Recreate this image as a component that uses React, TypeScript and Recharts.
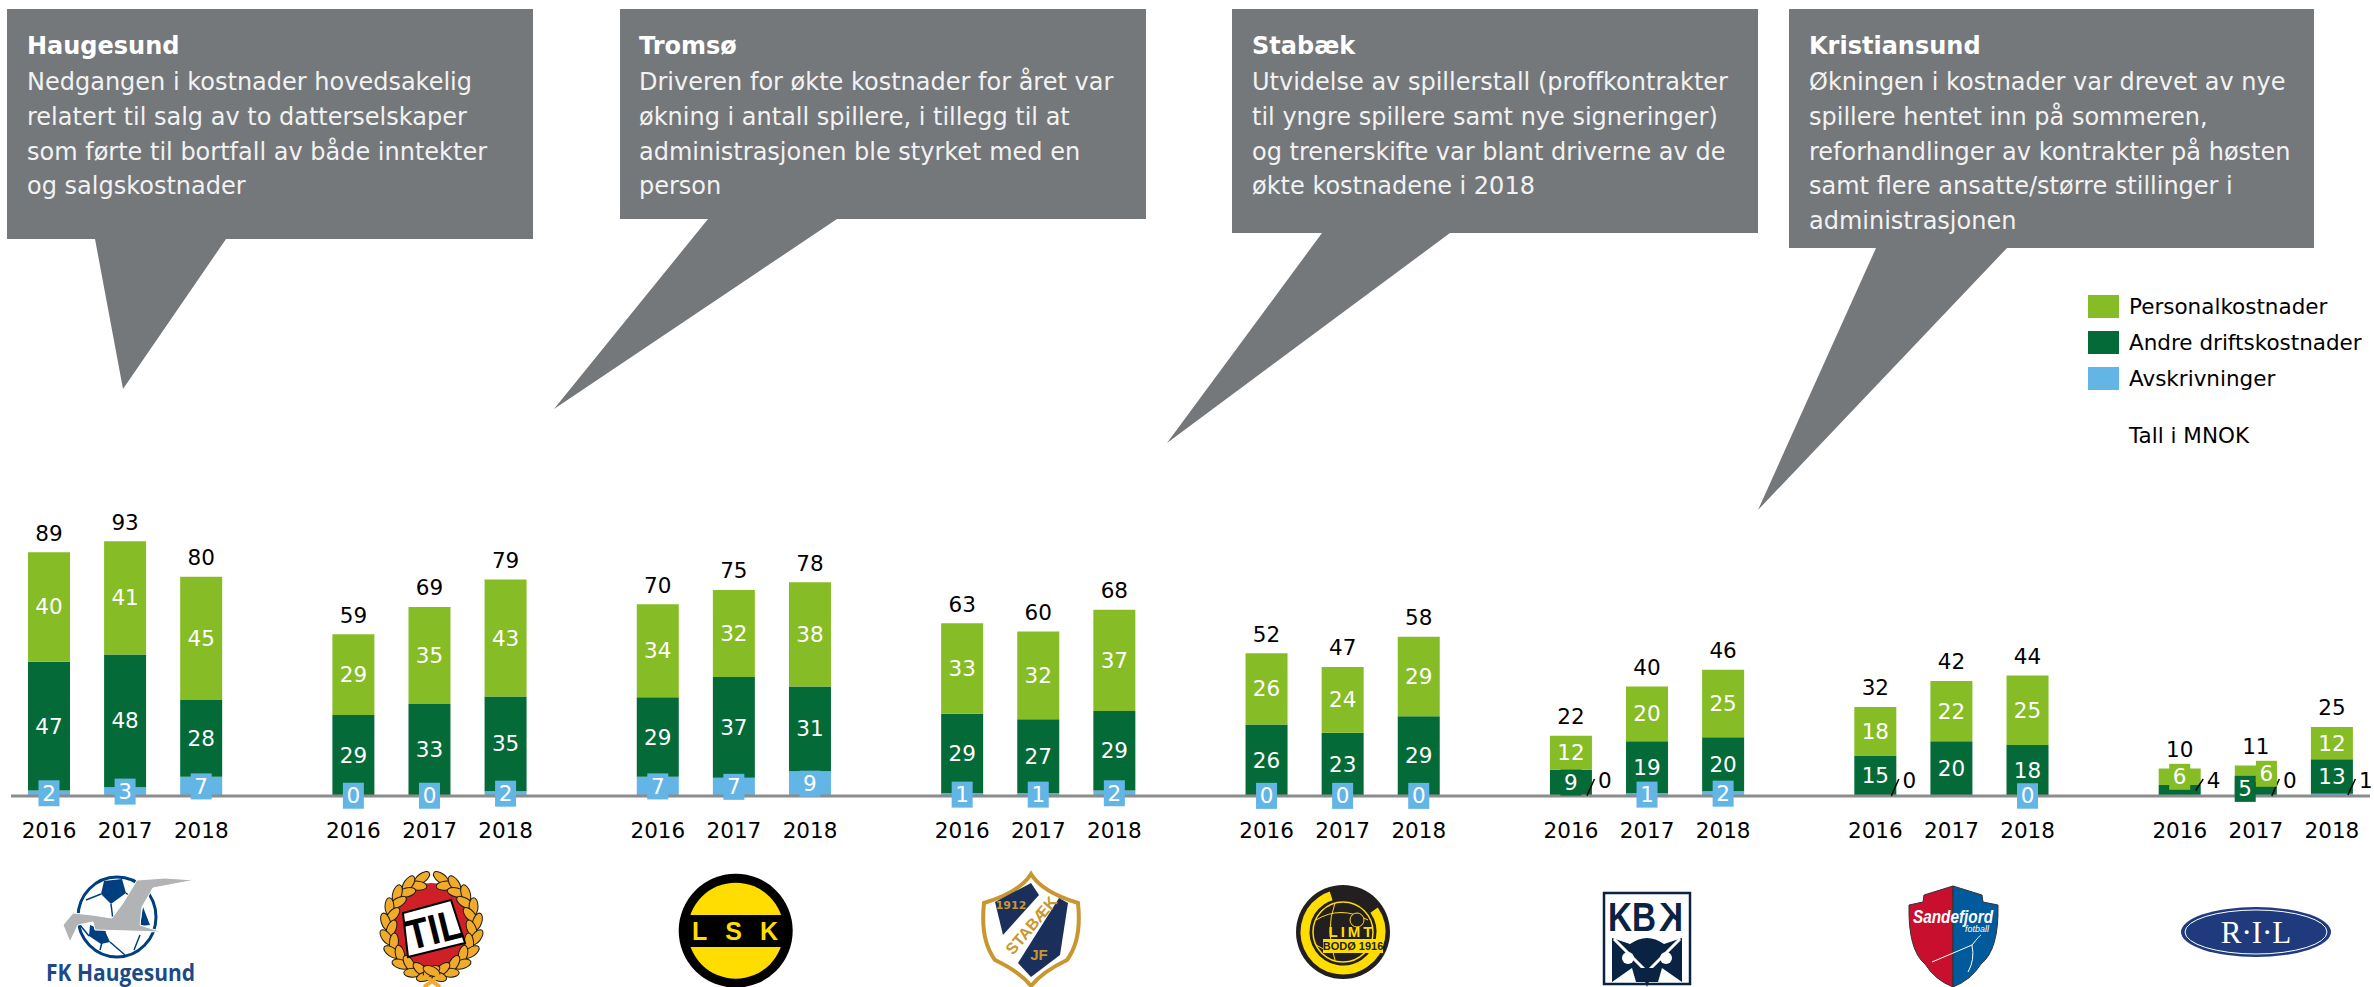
import { Bar, BarChart, LabelList, Legend, XAxis, YAxis } from "recharts";

const FONT = "'DejaVu Sans', Verdana, sans-serif";
const LIGHT_GREEN = "#86BC25";
const DARK_GREEN = "#046A38";
const BLUE = "#62B5E5";
const CALLOUT_GREY = "#75787B";

const years = ["2016", "2017", "2018"];

// one value per club per year, Haugesund first, Ranheim last
const personal = [40, 41.4, 45, 29.4, 35.4, 42.7, 34, 31.8, 38, 33, 32, 37, 26, 24, 29, 12.4, 20, 24.7, 17.7, 22, 25.4, 6, 6, 11.8];
const andre = [47, 48.4, 28, 29.4, 33.4, 34.6, 29, 36.7, 31, 29, 27, 29, 26, 23, 29, 9.4, 19, 19.7, 14.7, 20, 18.4, 4, 5, 12.6];
const avskrivninger = [2, 3.2, 7, 0.2, 0.2, 1.7, 7, 6.7, 9, 1, 1, 2, 0.1, 0.1, 0.1, 0.2, 1, 1.7, 0.1, null, 0.2, null, 0.1, 0.8];
const totals = [89, 93, 80, 59, 69, 79, 70, 75, 78, 63, 60, 68, 52, 47, 58, 22, 40, 46, 32, 42, 44, 10, 11, 25];

// a blank slot between the clubs keeps the groups apart
const rows: Record<string, number | string | null>[] = [];
personal.forEach((_, i) => {
  rows.push({
    id: rows.length,
    year: years[i % 3],
    personal: personal[i],
    andre: andre[i],
    avskrivninger: avskrivninger[i],
    total: totals[i],
  });
  if (i % 3 === 2 && i < personal.length - 1) {
    rows.push({ id: rows.length, year: "", personal: null, andre: null, avskrivninger: null, total: null });
  }
});

const rowOf = (club: number, year: number) => club * 4 + year;

// labels too small for their segment, moved next to the bar with a leader line
const sideLabels: Record<string, number[]> = {
  avskrivninger: [rowOf(5, 0), rowOf(6, 0), rowOf(7, 1), rowOf(7, 2)],
  andre: [rowOf(7, 0)],
};
const nudgedLabels: Record<string, Record<number, number>> = {
  personal: { [rowOf(7, 1)]: 10.6 },
  andre: { [rowOf(7, 1)]: -10.6 },
};

const callouts = [
  {
    title: "Haugesund",
    lines: ["Nedgangen i kostnader hovedsakelig", "relatert til salg av to datterselskaper", "som førte til bortfall av både inntekter", "og salgskostnader"],
    points: "7,9 533,9 533,239 226,239 123,389 95,239 7,239",
    textX: 27,
  },
  {
    title: "Tromsø",
    lines: ["Driveren for økte kostnader for året var", "økning i antall spillere, i tillegg til at", "administrasjonen ble styrket med en", "person"],
    points: "620,9 1146,9 1146,219 837,219 554,409 708,219 620,219",
    textX: 639,
  },
  {
    title: "Stabæk",
    lines: ["Utvidelse av spillerstall (proffkontrakter", "til yngre spillere samt nye signeringer)", "og trenerskifte var blant driverne av de", "økte kostnadene i 2018"],
    points: "1232,9 1758,9 1758,233 1450,233 1167,443 1322,233 1232,233",
    textX: 1252,
  },
  {
    title: "Kristiansund",
    lines: ["Økningen i kostnader var drevet av nye", "spillere hentet inn på sommeren,", "reforhandlinger av kontrakter på høsten", "samt flere ansatte/større stillinger i", "administrasjonen"],
    points: "1789,9 2314,9 2314,248 2007,248 1758,510 1876,248 1789,248",
    textX: 1809,
  },
];

// labels get "row:value" so the content renderer knows which bar it is on
const labelKey = (series: string) => (row: any) => (row[series] === null ? null : `${row.id}:${row[series]}`);

function SegmentLabel(props: any) {
  const { series, fill, value, axisY } = props;
  const box = props.viewBox ?? props;
  if (value === null || value === undefined) return null;
  const [rowId, raw] = String(value).split(":").map(Number);
  const text = String(Math.round(raw));
  const cy = box.y + box.height / 2;
  const right = box.x + box.width;

  if ((sideLabels[series] ?? []).includes(rowId)) {
    return (
      <g>
        <line x1={right - 5} y1={cy} x2={right + 2.5} y2={axisY - 17} stroke="#000" strokeWidth={1.5} />
        <text x={right + 13} y={axisY - 16} textAnchor="middle" dominantBaseline="central" fontSize={21.5} fontFamily={FONT} fill="#000">
          {text}
        </text>
      </g>
    );
  }

  const cx = box.x + box.width / 2 + (nudgedLabels[series]?.[rowId] ?? 0);
  const boxWidth = text.length > 1 ? 34 : 21;
  return (
    <g>
      <rect x={cx - boxWidth / 2} y={cy - 13} width={boxWidth} height={26} fill={fill} />
      <text x={cx} y={cy} textAnchor="middle" dominantBaseline="central" fontSize={21.5} fontFamily={FONT} fill="#fff">
        {text}
      </text>
    </g>
  );
}

function TotalLabel(props: any) {
  const box = props.viewBox ?? props;
  if (props.value === null || props.value === undefined) return null;
  return (
    <text x={box.x + box.width / 2} y={box.y - 19} textAnchor="middle" dominantBaseline="central" fontSize={21.5} fontFamily={FONT} fill="#000">
      {props.value}
    </text>
  );
}

function LegendList({ payload }: any) {
  const items = (payload ?? []).filter((item: any) => item.type !== "none").reverse();
  return (
    <div style={{ fontFamily: FONT, fontSize: 21.5, color: "#000" }}>
      {items.map((item: any) => (
        <div key={item.value} style={{ display: "flex", alignItems: "center", height: 23, marginBottom: 13, whiteSpace: "nowrap" }}>
          <span style={{ width: 31, height: 23, background: item.color, marginRight: 10, flex: "none" }} />
          {item.value}
        </div>
      ))}
      <div style={{ marginLeft: 41, marginTop: 34, lineHeight: "23px" }}>Tall i MNOK</div>
    </div>
  );
}

function Callouts() {
  return (
    <>
      {callouts.map((c) => (
        <g key={c.title}>
          <polygon points={c.points} fill={CALLOUT_GREY} />
          <text x={c.textX} y={54} fontSize={24} fontWeight="bold" fontFamily={FONT} fill="#fff">
            {c.title}
          </text>
          {c.lines.map((line, i) => (
            <text key={line} x={c.textX} y={90 + i * 34.8} fontSize={24} fontFamily={FONT} fill="#f2f2f2">
              {line}
            </text>
          ))}
        </g>
      ))}
    </>
  );
}

function HaugesundLogo() {
  const navy = "#003F7F";
  return (
    <g>
      <ellipse cx={117} cy={917} rx={39} ry={40} fill="#fff" stroke={navy} strokeWidth={3} />
      <polygon points="104,881 122,879 126,893 111,904 101,894" fill={navy} />
      <polygon points="90,925 105,931 110,942 101,944 89,936" fill={navy} />
      <polygon points="143,907 150,925 140,926" fill={navy} />
      <path d="M111 904 L113 920 M126 893 L140 905 M105 931 L100 950 M110 942 L125 955 M101 894 L86 900 M89 936 L80 925 M140 935 L134 950" stroke={navy} strokeWidth={1.5} fill="none" />
      <polygon points="195,880 165,878 137,880 123,903 112,918 92,915 73,913 63,925 70,942 78,925 93,922 95,930 130,931 162,932 140,925 142,907 153,888" fill="#B1B3B5" stroke="#fff" strokeWidth={1} />
      <text x={46} y={981} fontSize={23} fontWeight="bold" fontFamily="'Open Sans', sans-serif" fill="#1B4A86" textLength={149} lengthAdjust="spacingAndGlyphs">
        FK Haugesund
      </text>
    </g>
  );
}

function TromsoLogo() {
  const cx = 431.5;
  const cy = 927;
  const steps = [12, 30, 48, 66, 84, 102, 120, 138, 156, 172];
  const leaf = (a: number, side: number, rx: number, ry: number, tilt: number) => {
    const r = (a * Math.PI) / 180;
    const x = cx + side * rx * Math.sin(r);
    const y = cy - ry * Math.cos(r);
    return (
      <ellipse
        key={`${a}-${side}-${rx}`}
        cx={x}
        cy={y}
        rx={4.5}
        ry={9}
        fill="#F0AB2A"
        stroke="#1a1a1a"
        strokeWidth={1}
        transform={`rotate(${side * (a + 90 + tilt)} ${x} ${y})`}
      />
    );
  };
  return (
    <g>
      <ellipse cx={cx} cy={cy} rx={40} ry={44} fill="#CF2027" />
      {steps.map((a) => [leaf(a, 1, 46, 50, 25), leaf(a, -1, 46, 50, 25), leaf(a + 8, 1, 40, 44, -25), leaf(a + 8, -1, 40, 44, -25)])}
      <polygon points="403,913 451,900 465,943 408,957" fill="#fff" stroke="#000" strokeWidth={2} />
      <text x={434} y={944} textAnchor="middle" fontSize={42} fontWeight="bold" fontFamily="'Liberation Sans', sans-serif" fill="#000" textLength={56} lengthAdjust="spacingAndGlyphs" transform="rotate(-14 434 930)">
        TIL
      </text>
      <path d="M424 987 L440 975 M440 987 L424 975" stroke="#F0AB2A" strokeWidth={4} />
    </g>
  );
}

function LskLogo() {
  return (
    <g>
      <circle cx={735.7} cy={930.7} r={57} fill="#000" />
      <circle cx={735.7} cy={930.7} r={48} fill="#FFDD00" />
      <rect x={683} y={915} width={105} height={32} fill="#000" />
      <text x={744} y={940} textAnchor="middle" fontSize={25} fontWeight="bold" fontFamily="'Liberation Sans', sans-serif" fill="#FFDD00" letterSpacing={18}>
        LSK
      </text>
    </g>
  );
}

function StabaekLogo() {
  const gold = "#C9962F";
  return (
    <g>
      <path d="M1031 874 Q1042 892 1078 903 Q1082 940 1067 960 Q1042 972 1031 986 Q1020 972 995 960 Q980 940 984 903 Q1020 892 1031 874 Z" fill="#fff" stroke={gold} strokeWidth={4} />
      <polygon points="1031,883 1039,895 1003,935 995,902" fill="#1B2F5B" />
      <polygon points="1059,898 1068,903 1060,955 1031,977 1018,963" fill="#1B2F5B" />
      <text x={1011} y={909} textAnchor="middle" fontSize={11} fontWeight="bold" fontFamily={FONT} fill={gold}>
        1912
      </text>
      <text x={1031} y={931} textAnchor="middle" fontSize={16} fontWeight="bold" fontFamily="'Liberation Sans', sans-serif" fill={gold} transform="rotate(-50 1031 925)">
        STABÆK
      </text>
      <text x={1039} y={960} textAnchor="middle" fontSize={15} fontWeight="bold" fontFamily="'Liberation Sans', sans-serif" fill={gold}>
        JF
      </text>
    </g>
  );
}

function BodoLogo() {
  const yellow = "#FFDD00";
  return (
    <g>
      <circle cx={1343} cy={932} r={47} fill="#231F20" />
      <circle cx={1343} cy={932} r={38} fill="none" stroke={yellow} strokeWidth={9} strokeDasharray="190 49" transform="rotate(-35 1343 932)" />
      <circle cx={1343} cy={932} r={30} fill="none" stroke={yellow} strokeWidth={1.5} />
      <path d="M1316 920 Q1340 905 1368 920 M1316 945 Q1340 960 1368 945 M1335 903 Q1325 930 1335 960" stroke={yellow} strokeWidth={1} fill="none" />
      <circle cx={1357} cy={920} r={7} fill="#231F20" stroke={yellow} strokeWidth={1} />
      <text x={1352} y={937} textAnchor="middle" fontSize={15} fontWeight="bold" fontFamily="'Liberation Sans', sans-serif" fill={yellow} letterSpacing={3}>
        LIMT
      </text>
      <rect x={1323} y={939} width={60} height={14} fill={yellow} />
      <text x={1353} y={950} textAnchor="middle" fontSize={11} fontWeight="bold" fontFamily="'Liberation Sans', sans-serif" fill="#231F20">
        BODØ 1916
      </text>
    </g>
  );
}

function KbkLogo() {
  const navy = "#0A2342";
  return (
    <g>
      <rect x={1604} y={893} width={86} height={91} fill="#fff" stroke={navy} strokeWidth={2.5} />
      <text x={1632} y={931} textAnchor="middle" fontSize={40} fontWeight="bold" fontFamily="'Liberation Sans', sans-serif" fill={navy} textLength={48} lengthAdjust="spacingAndGlyphs">
        KB
      </text>
      <text x={-1671} y={931} textAnchor="middle" fontSize={40} fontWeight="bold" fontFamily="'Liberation Sans', sans-serif" fill={navy} transform="scale(-1 1)" textLength={24} lengthAdjust="spacingAndGlyphs">
        K
      </text>
      <path d="M1612 938 L1630 944 Q1647 932 1664 944 L1682 938 L1682 982 L1612 982 Z" fill={navy} />
      <circle cx={1628} cy={958} r={6} fill="#fff" />
      <circle cx={1666} cy={958} r={6} fill="#fff" />
      <path d="M1614 939 L1647 972 L1680 939" fill="none" stroke="#fff" strokeWidth={3} />
      <path d="M1640 968 L1647 987 L1654 968 Z" fill={navy} />
      <path d="M1612 982 L1632 968 L1636 982 Z M1682 982 L1662 968 L1658 982 Z" fill="#fff" />
    </g>
  );
}

function SandefjordLogo() {
  return (
    <g>
      <path d="M1953 886 L1924 895 L1923 902 L1909 905 Q1908 950 1925 964 Q1935 980 1953 987 Z" fill="#C8102E" stroke="#333" strokeWidth={1} />
      <path d="M1953 886 L1982 895 L1983 902 L1998 905 Q1999 950 1981 964 Q1971 980 1953 987 Z" fill="#005A9C" stroke="#333" strokeWidth={1} />
      <text x={1953} y={923} textAnchor="middle" fontSize={19} fontWeight="bold" fontStyle="italic" fontFamily="'Liberation Sans', sans-serif" fill="#fff" textLength={80} lengthAdjust="spacingAndGlyphs">
        Sandefjord
      </text>
      <text x={1977} y={932} textAnchor="middle" fontSize={9} fontStyle="italic" fontFamily="'Liberation Sans', sans-serif" fill="#fff">
        fotball
      </text>
      <path d="M1932 962 L1972 945 Q1980 935 1981 935 M1972 945 Q1975 960 1968 972" stroke="#fff" strokeWidth={1} fill="none" />
    </g>
  );
}

function RanheimLogo() {
  return (
    <g>
      <ellipse cx={2256} cy={932} rx={75} ry={25} fill="#1F3A7D" />
      <ellipse cx={2256} cy={932} rx={71} ry={22} fill="none" stroke="#fff" strokeWidth={1} />
      <text x={2256} y={943} textAnchor="middle" fontSize={31} fontFamily="'Liberation Serif', serif" fill="#fff">
        R·I·L
      </text>
    </g>
  );
}

const PLOT_BOTTOM = 796;
const Y_MAX = 290.5;

export default function App() {
  return (
    <div style={{ position: "absolute", left: 0, top: 0, width: 2374, height: 987, overflow: "hidden", background: "#fff" }}>
      <svg width={2374} height={987} style={{ position: "absolute", left: 0, top: 0 }}>
        <Callouts />
        <HaugesundLogo />
        <TromsoLogo />
        <LskLogo />
        <StabaekLogo />
        <BodoLogo />
        <KbkLogo />
        <SandefjordLogo />
        <RanheimLogo />
      </svg>
      <div style={{ position: "absolute", left: 0, top: 0 }}>
        <BarChart width={2374} height={987} data={rows} margin={{ top: 0, right: 4, bottom: 131, left: 11 }} barSize={42}>
          <XAxis
            dataKey="year"
            height={60}
            interval={0}
            tickLine={false}
            tickSize={0}
            tickMargin={27}
            axisLine={{ stroke: "#8C8C8C", strokeWidth: 3 }}
            tick={{ fontSize: 21.5, fill: "#000", fontFamily: FONT }}
          />
          <XAxis xAxisId="labels" dataKey="year" hide />
          <YAxis hide domain={[0, Y_MAX]} />
          <YAxis yAxisId="labels" hide domain={[0, Y_MAX]} />
          <Legend
            layout="vertical"
            align="center"
            verticalAlign="middle"
            itemSorter={null}
            wrapperStyle={{ left: 2088, top: 295, width: 285 }}
            content={<LegendList />}
          />
          <Bar dataKey="avskrivninger" name="Avskrivninger" stackId="costs" fill={BLUE} isAnimationActive={false} />
          <Bar dataKey="andre" name="Andre driftskostnader" stackId="costs" fill={DARK_GREEN} isAnimationActive={false} />
          <Bar dataKey="personal" name="Personalkostnader" stackId="costs" fill={LIGHT_GREEN} isAnimationActive={false} />

          {/* second, invisible stack so the label boxes sit above every bar */}
          <Bar dataKey="avskrivninger" stackId="labels" xAxisId="labels" yAxisId="labels" fill="none" legendType="none" isAnimationActive={false}>
            <LabelList dataKey={labelKey("avskrivninger")} content={(p: any) => <SegmentLabel {...p} series="avskrivninger" fill={BLUE} axisY={PLOT_BOTTOM} />} />
          </Bar>
          <Bar dataKey="andre" stackId="labels" xAxisId="labels" yAxisId="labels" fill="none" legendType="none" isAnimationActive={false}>
            <LabelList dataKey={labelKey("andre")} content={(p: any) => <SegmentLabel {...p} series="andre" fill={DARK_GREEN} axisY={PLOT_BOTTOM} />} />
          </Bar>
          <Bar dataKey="personal" stackId="labels" xAxisId="labels" yAxisId="labels" fill="none" legendType="none" isAnimationActive={false}>
            <LabelList dataKey={labelKey("personal")} content={(p: any) => <SegmentLabel {...p} series="personal" fill={LIGHT_GREEN} axisY={PLOT_BOTTOM} />} />
            <LabelList dataKey="total" content={<TotalLabel />} />
          </Bar>
        </BarChart>
      </div>
    </div>
  );
}
